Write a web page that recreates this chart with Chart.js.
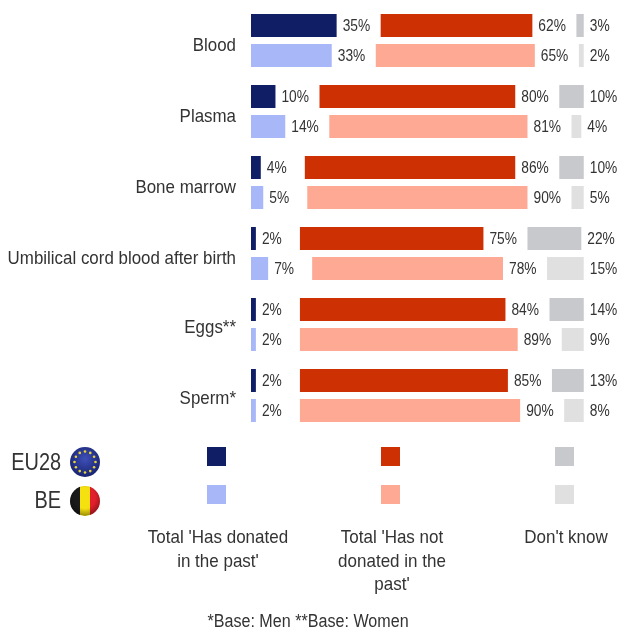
<!DOCTYPE html>
<html>
<head>
<meta charset="utf-8">
<title>Donation</title>
<script src="https://cdn.jsdelivr.net/npm/chart.js@4/dist/chart.umd.min.js"></script>
<style>
  html, body { margin: 0; padding: 0; background: #fff; }
  #wrap { position: relative; width: 619px; height: 630px; overflow: hidden; font-family: "Liberation Sans", Arial, sans-serif; color: #333; }
  canvas { position: absolute; left: 0; top: 0; }
  .swatch { position: absolute; width: 19px; height: 19px; }
  .note { position: absolute; text-align: center; font-size: 19px; line-height: 23.5px; transform: translateX(-50%) scaleX(0.895); white-space: nowrap; }
  .geo { position: absolute; right: 558px; font-size: 24px; line-height: 28px; transform: scaleX(0.83); transform-origin: right center; }
  svg { position: absolute; }
</style>
</head>
<body>
<div id="wrap">
  <canvas id="chart" width="619" height="630"></canvas>
  <div class="geo" style="top:448px">EU28</div>
  <div class="geo" style="top:486px">BE</div>
  <svg width="32" height="32" style="left:69px;top:446px" viewBox="0 0 32 32">
    <defs>
      <radialGradient id="euBall" cx="50%" cy="40%" r="60%"><stop offset="0" stop-color="#3f4fb8"/><stop offset="1" stop-color="#18236f"/></radialGradient>
      <radialGradient id="shade" cx="50%" cy="40%" r="58%"><stop offset="0.6" stop-color="#000" stop-opacity="0"/><stop offset="1" stop-color="#000" stop-opacity="0.35"/></radialGradient>
      <clipPath id="disc"><circle cx="16" cy="16" r="15"/></clipPath>
    </defs>
    <circle cx="16" cy="16" r="15" fill="url(#euBall)"/>
    <g id="stars" fill="#e6d53a"></g>
  </svg>
  <svg width="32" height="32" style="left:69px;top:485px" viewBox="0 0 32 32">
    <g clip-path="url(#disc)">
      <rect x="0" y="0" width="11" height="32" fill="#1a1a1a"/>
      <rect x="11" y="0" width="10" height="32" fill="#f5e010"/>
      <rect x="21" y="0" width="11" height="32" fill="#e0202a"/>
      <circle cx="16" cy="16" r="15" fill="url(#shade)"/>
    </g>
  </svg>
</div>
<script>
const categories = ['Blood', 'Plasma', 'Bone marrow', 'Umbilical cord blood after birth', 'Eggs**', 'Sperm*'];
const euDonated = [35, 10, 4, 2, 2, 2];
const euNotDonated = [62, 80, 86, 75, 84, 85];
const euDontKnow = [3, 10, 10, 22, 14, 13];
const beDonated = [33, 14, 5, 7, 2, 2];
const beNotDonated = [65, 81, 90, 78, 89, 90];
const beDontKnow = [2, 4, 5, 15, 9, 8];
// empty stretch between the three panels
const spacer = [18, 18, 18, 18, 18, 18];
const legendNames = ["Total 'Has donated<br>in the past'", "Total 'Has not<br>donated in the<br>past'", "Don't know"];
const footnote = '*Base: Men **Base: Women';

const navy = '#101e66', paleBlue = '#a8b7f8';
const red = '#cd3003', salmon = '#fda994';
const grey = '#c8c9cc', paleGrey = '#e0e0e1';

function part(stack, values, color) {
  return { stack: stack, data: values, backgroundColor: color, showValue: true };
}
function gap(stack) {
  return { stack: stack, data: spacer, backgroundColor: 'rgba(0,0,0,0)', showValue: false };
}

// the reference text is a squeezed Arial, so squeeze it sideways around x
function squeezed(ctx, text, x, y, amount) {
  ctx.save();
  ctx.translate(x, y);
  ctx.scale(amount, 1);
  ctx.fillText(text, 0, 0);
  ctx.restore();
}

// chartjs has no value labels of its own, so draw them next to the bars
const textPlugin = {
  id: 'textPlugin',
  afterDatasetsDraw(chart) {
    const ctx = chart.ctx;
    ctx.save();
    ctx.fillStyle = '#333';
    ctx.textBaseline = 'middle';
    ctx.textAlign = 'left';
    ctx.font = '16px "Liberation Sans"';
    chart.data.datasets.forEach((ds, d) => {
      if (!ds.showValue) return;
      chart.getDatasetMeta(d).data.forEach((bar, i) => {
        squeezed(ctx, ds.data[i] + '%', bar.x + 6, bar.y + 1, 0.86);
      });
    });
    // category names sit a little under the middle of their pair of bars
    ctx.textAlign = 'right';
    ctx.font = '19px "Liberation Sans"';
    chart.data.labels.forEach((name, i) => {
      const lift = name.endsWith('*') ? 3 : 5.5;
      squeezed(ctx, name, 236, chart.scales.y.getPixelForValue(i) + lift, 0.89);
    });
    ctx.restore();
  }
};

new Chart(document.getElementById('chart'), {
  type: 'bar',
  data: {
    labels: categories,
    datasets: [
      part('EU28', euDonated, navy), gap('EU28'), part('EU28', euNotDonated, red), gap('EU28'), part('EU28', euDontKnow, grey),
      part('BE', beDonated, paleBlue), gap('BE'), part('BE', beNotDonated, salmon), gap('BE'), part('BE', beDontKnow, paleGrey)
    ]
  },
  options: {
    indexAxis: 'y',
    responsive: false,
    animation: false,
    devicePixelRatio: 1,
    categoryPercentage: 60 / 71,
    barPercentage: 23 / 30,
    layout: { padding: { top: 5, bottom: 199, left: 0, right: 1 } },
    plugins: { legend: { display: false }, tooltip: { enabled: false } },
    scales: {
      x: { stacked: true, display: false, min: 0, max: 150 },
      y: {
        stacked: true,
        grid: { display: false },
        border: { display: false },
        ticks: { display: false },
        afterFit(scale) { scale.width = 251; }
      }
    }
  },
  plugins: [textPlugin]
});

// legend under the chart
const wrap = document.getElementById('wrap');
const swatchX = [207, 380.5, 554.5];
const swatchColors = [[navy, paleBlue], [red, salmon], [grey, paleGrey]];
const noteX = [218, 392, 566];
swatchX.forEach((x, i) => {
  swatchColors[i].forEach((c, row) => {
    const s = document.createElement('div');
    s.className = 'swatch';
    s.style.cssText = 'left:' + x + 'px;top:' + (447 + row * 38) + 'px;background:' + c;
    wrap.appendChild(s);
  });
  const n = document.createElement('div');
  n.className = 'note';
  n.style.cssText = 'left:' + noteX[i] + 'px;top:525px';
  n.innerHTML = legendNames[i];
  wrap.appendChild(n);
});
const foot = document.createElement('div');
foot.className = 'note';
foot.style.cssText = 'left:308px;top:610px;font-size:18px';
foot.textContent = footnote;
wrap.appendChild(foot);

// twelve stars on the EU flag
const stars = document.getElementById('stars');
for (let k = 0; k < 12; k++) {
  const a = k * Math.PI / 6;
  const dot = document.createElementNS('http://www.w3.org/2000/svg', 'circle');
  dot.setAttribute('cx', 16 + 10.5 * Math.cos(a));
  dot.setAttribute('cy', 16 + 10.5 * Math.sin(a));
  dot.setAttribute('r', 1.3);
  stars.appendChild(dot);
}
</script>
</body>
</html>
